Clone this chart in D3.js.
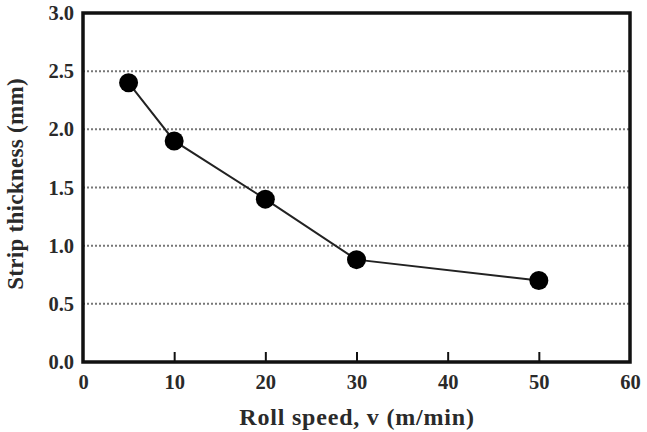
<!DOCTYPE html>
<html><head><meta charset="utf-8">
<script src="https://cdn.jsdelivr.net/npm/d3@7"></script>
<style>body{margin:0;background:#fff}svg{display:block}text{font-family:"Liberation Serif","Times New Roman",serif;font-weight:bold;fill:#2a2a2a}</style>
</head><body>
<svg id="c" width="647" height="432"></svg>
<script>
const speeds = [5, 10, 20, 30, 50];
const thickness = [2.4, 1.9, 1.4, 0.88, 0.7];
const xTicks = [0, 10, 20, 30, 40, 50, 60];
const yTicks = [0.0, 0.5, 1.0, 1.5, 2.0, 2.5, 3.0];
const gridVals = [0.5, 1.0, 1.5, 2.0, 2.5];
const xTitle = "Roll speed, v (m/min)";
const yTitle = "Strip thickness (mm)";

const svg = d3.select("#c");
const L = 83, R = 630, T = 13, B = 362;
const x = d3.scaleLinear().domain([0, 60]).range([L, R]);
const y = d3.scaleLinear().domain([0, 3]).range([B, T]);

// grid
svg.append("g").selectAll("line").data(gridVals).join("line")
  .attr("x1", L).attr("x2", R).attr("y1", d => y(d)).attr("y2", d => y(d))
  .attr("stroke", "#777").attr("stroke-width", 2).attr("stroke-dasharray", "2,2");

// x axis with inner ticks
const xAxis = d3.axisBottom(x).tickValues(xTicks).tickSize(-10).tickPadding(12).tickFormat(d3.format("d"));
const gx = svg.append("g").attr("transform", `translate(0,${B})`).call(xAxis);
gx.select(".domain").remove();
gx.selectAll(".tick line").attr("stroke", "#111").attr("stroke-width", 2)
  .filter(d => d === 0 || d === 60).remove();
gx.selectAll(".tick text").attr("font-size", 20.5).attr("font-family", "Liberation Serif").attr("font-weight", "bold").attr("fill", "#2a2a2a");

const yAxis = d3.axisLeft(y).tickValues(yTicks).tickSize(0).tickPadding(9).tickFormat(d3.format(".1f"));
const gy = svg.append("g").attr("transform", `translate(${L},0)`).call(yAxis);
gy.select(".domain").remove();
gy.selectAll(".tick text").attr("font-size", 20.5).attr("font-family", "Liberation Serif").attr("font-weight", "bold").attr("fill", "#2a2a2a");

// frame
svg.append("rect").attr("x", L).attr("y", T).attr("width", R - L).attr("height", B - T)
  .attr("fill", "none").attr("stroke", "#111").attr("stroke-width", 3.5);

// line
const pts = speeds.map((s, i) => [s, thickness[i]]);
svg.append("path").datum(pts)
  .attr("d", d3.line().x(d => x(d[0])).y(d => y(d[1])))
  .attr("fill", "none").attr("stroke", "#222").attr("stroke-width", 2);
svg.append("g").selectAll("circle").data(pts).join("circle")
  .attr("cx", d => x(d[0])).attr("cy", d => y(d[1])).attr("r", 9.5).attr("fill", "#000");

// titles
svg.append("text").attr("x", 357).attr("y", 425).attr("text-anchor", "middle")
  .attr("font-size", 24).attr("letter-spacing", 0.8).text(xTitle);
svg.append("text").attr("transform", `translate(23,184) rotate(-90)`).attr("text-anchor", "middle")
  .attr("font-size", 23).attr("letter-spacing", 0.3).text(yTitle);
</script>
</body></html>
